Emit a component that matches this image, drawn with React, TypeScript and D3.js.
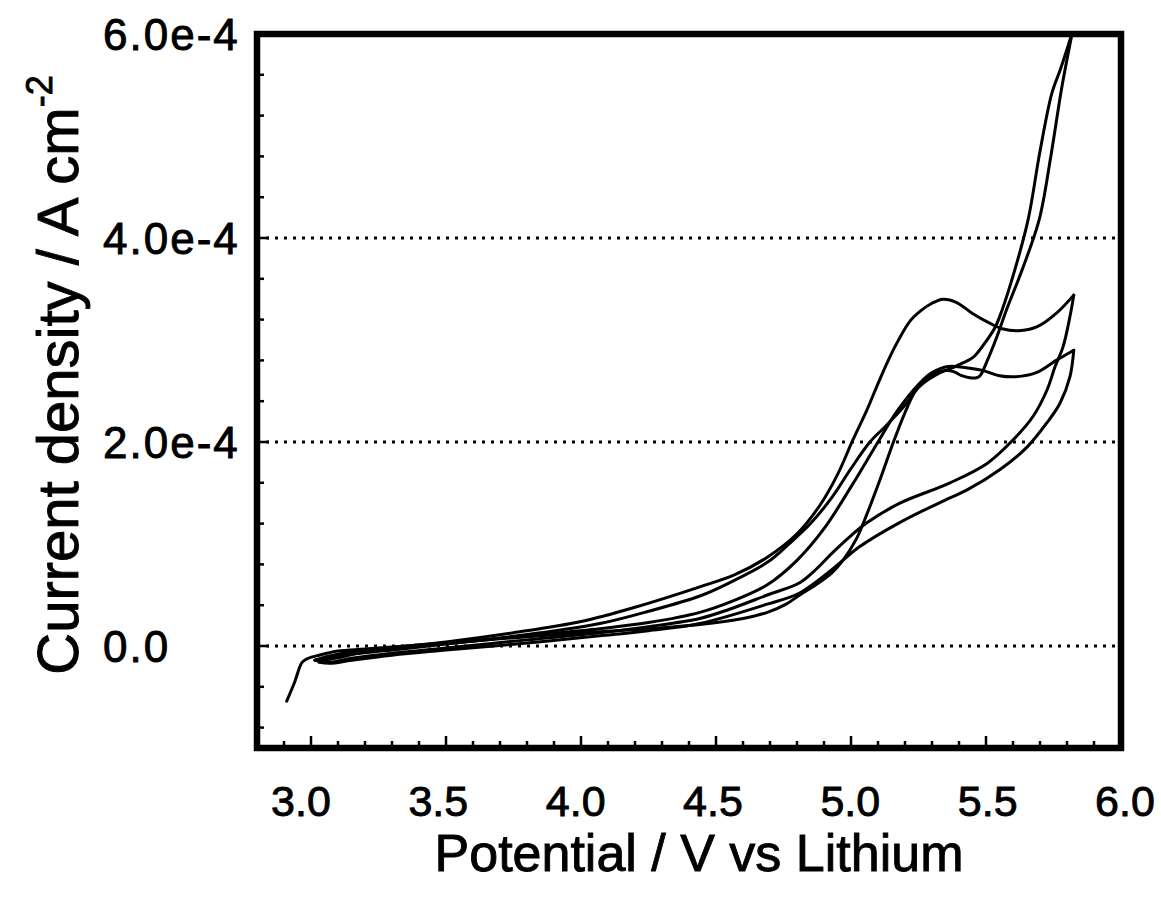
import React from "react";
import * as d3 from "d3";

// Cyclic voltammogram: potential (V vs Li) / current density (in units of 1e-4 A cm^-2)
const anodic1: [number, number][] = [
  [2.91, -0.54], [2.94, -0.35], [2.967, -0.16], [2.99, -0.12], [3.03, -0.09], [3.1, -0.05],
  [3.2, -0.03], [3.35, 0.0], [3.5, 0.03], [3.7, 0.07], [3.9, 0.11], [4.07, 0.14], [4.25, 0.17],
  [4.44, 0.21], [4.6, 0.27], [4.69, 0.33], [4.76, 0.41], [4.81, 0.5], [4.87, 0.6], [4.93, 0.72],
  [4.97, 0.84], [5.02, 1.05], [5.06, 1.3], [5.11, 1.65], [5.16, 2.02], [5.21, 2.35], [5.25, 2.55],
  [5.3, 2.66], [5.35, 2.7], [5.38, 2.69], [5.41, 2.65], [5.44, 2.63], [5.465, 2.63], [5.478, 2.65],
  [5.505, 2.8], [5.54, 3.03], [5.575, 3.29], [5.634, 3.69], [5.697, 4.18], [5.74, 4.8],
  [5.781, 5.48], [5.82, 6.02],
];
const cathodic1: [number, number][] = [
  [5.82, 6.02], [5.8, 5.85], [5.775, 5.65], [5.744, 5.42], [5.7, 4.85], [5.656, 4.18],
  [5.607, 3.69], [5.559, 3.29], [5.533, 3.12], [5.49, 2.95], [5.452, 2.83], [5.41, 2.77],
  [5.378, 2.73], [5.33, 2.68], [5.256, 2.55], [5.2, 2.36], [5.13, 2.16], [5.07, 2.0], [5.0, 1.74],
  [4.93, 1.46], [4.85, 1.2], [4.77, 1.0], [4.69, 0.82], [4.55, 0.62], [4.44, 0.49], [4.25, 0.34],
  [4.07, 0.22], [3.85, 0.13], [3.6, 0.05], [3.4, 0.0], [3.2, -0.06], [3.07, -0.13], [3.015, -0.14],
];
const anodic2: [number, number][] = [
  [3.015, -0.14], [3.05, -0.11], [3.1, -0.08], [3.25, -0.03], [3.5, 0.04], [3.75, 0.13],
  [4.0, 0.24], [4.2, 0.38], [4.44, 0.58], [4.57, 0.7], [4.69, 0.87], [4.8, 1.1], [4.885, 1.38],
  [4.95, 1.68], [5.007, 2.02], [5.06, 2.32], [5.106, 2.61], [5.16, 2.92], [5.22, 3.19],
  [5.26, 3.29], [5.3, 3.36], [5.34, 3.4], [5.39, 3.37], [5.45, 3.26], [5.51, 3.17], [5.56, 3.11],
  [5.62, 3.09], [5.69, 3.13], [5.76, 3.26], [5.825, 3.44],
];
const cathodic2: [number, number][] = [
  [5.825, 3.44], [5.811, 3.23], [5.785, 2.93], [5.756, 2.74], [5.726, 2.51], [5.674, 2.25],
  [5.6, 2.02], [5.504, 1.79], [5.367, 1.6], [5.181, 1.4], [5.06, 1.21], [4.995, 1.07],
  [4.93, 0.91], [4.87, 0.75], [4.81, 0.62], [4.69, 0.5], [4.55, 0.36], [4.44, 0.27], [4.25, 0.19],
  [4.07, 0.13], [3.8, 0.06], [3.5, -0.02], [3.3, -0.07], [3.15, -0.12], [3.07, -0.16], [3.015, -0.14],
];
const anodic3: [number, number][] = [
  [3.015, -0.14], [3.06, -0.12], [3.12, -0.09], [3.3, -0.04], [3.5, 0.02], [3.75, 0.09],
  [4.07, 0.17], [4.25, 0.23], [4.44, 0.33], [4.57, 0.45], [4.69, 0.6], [4.8, 0.84], [4.9, 1.15],
  [5.0, 1.56], [5.1, 2.0], [5.17, 2.3], [5.256, 2.58], [5.3, 2.68], [5.36, 2.74], [5.42, 2.73],
  [5.49, 2.7], [5.55, 2.65], [5.61, 2.64], [5.686, 2.68], [5.76, 2.8], [5.825, 2.9],
];
const cathodic3: [number, number][] = [
  [5.825, 2.9], [5.811, 2.64], [5.774, 2.38], [5.726, 2.19], [5.652, 1.95], [5.552, 1.73],
  [5.43, 1.53], [5.356, 1.44], [5.18, 1.21], [5.03, 0.97], [4.93, 0.75], [4.81, 0.52],
  [4.69, 0.41], [4.44, 0.22], [4.25, 0.15], [4.07, 0.1], [3.8, 0.03], [3.5, -0.04], [3.3, -0.09],
  [3.15, -0.14], [3.07, -0.17], [3.03, -0.16],
];

const sweeps = [anodic1, cathodic1, anodic2, cathodic2, anodic3, cathodic3];

const xLabelValues = [3.0, 3.5, 4.0, 4.5, 5.0, 5.5, 6.0];
const xLabels = ["3.0", "3.5", "4.0", "4.5", "5.0", "5.5", "6.0"];
const yLabelValues = [0, 2, 4, 6];
const yLabels = ["0.0", "2.0e-4", "4.0e-4", "6.0e-4"];
const gridValues = [0, 2, 4];

const W = 1161;
const H = 900;
const font = "'Liberation Sans', Arial, Helvetica, sans-serif";

const App = () => {
  const x = d3.scaleLinear().domain([2.8, 6.0]).range([257, 1121]);
  const y = d3.scaleLinear().domain([-1, 6]).range([748, 34]);
  // the printed tick labels sit on a slightly wider spacing than the ticks
  const xLabelPos = d3.scaleLinear().domain([3.0, 6.0]).range([301, 1125]);

  const line = d3
    .line<[number, number]>()
    .x(d => x(d[0]))
    .y(d => y(d[1]))
    .curve(d3.curveCatmullRom.alpha(0.5));

  const xMinor = d3.range(29, 60).map(d => d / 10);
  const yMinor = d3.range(-2, 15).map(d => d * 0.4);

  const [x0, x1] = x.range();
  const [y0, y1] = y.range();

  return (
    <svg width={W} height={H} style={{ position: "absolute", left: 0, top: 0, background: "#fff" }}>
      <defs>
        <clipPath id="plot">
          <rect x={x0} y={y1} width={x1 - x0} height={y0 - y1} />
        </clipPath>
      </defs>

      {/* dotted grid */}
      {gridValues.map(v => (
        <line key={v} x1={x0} x2={x1} y1={y(v)} y2={y(v)} stroke="#000" strokeWidth={3} strokeDasharray="3 6" />
      ))}

      {/* curves */}
      <g clipPath="url(#plot)">
        {sweeps.map((s, i) => (
          <path key={i} d={line(s) || ""} fill="none" stroke="#000" strokeWidth={3} strokeLinejoin="round" strokeLinecap="round" />
        ))}
      </g>

      {/* ticks */}
      {xMinor.map(v => {
        const major = Math.abs(v * 2 - Math.round(v * 2)) < 1e-6;
        return <line key={v} x1={x(v)} x2={x(v)} y1={y0} y2={y0 - (major ? 12 : 7)} stroke="#000" strokeWidth={2.5} />;
      })}
      {yMinor.map(v => {
        const major = Math.abs(v / 2 - Math.round(v / 2)) < 1e-6;
        return <line key={v} x1={x0} x2={x0 + (major ? 12 : 7)} y1={y(v)} y2={y(v)} stroke="#000" strokeWidth={2.5} />;
      })}

      {/* frame */}
      <rect x={x0} y={y1} width={x1 - x0} height={y0 - y1} fill="none" stroke="#000" strokeWidth={6.5} />

      {/* tick labels */}
      {xLabelValues.map((v, i) => (
        <text key={v} x={xLabelPos(v)} y={816} textAnchor="middle" fontFamily={font} fontSize={43} stroke="#000" strokeWidth={0.9}>
          {xLabels[i]}
        </text>
      ))}
      {yLabelValues.map((v, i) => (
        <text key={v} x={103} y={y(v) + 16} textAnchor="start" fontFamily={font} fontSize={44} letterSpacing={2} stroke="#000" strokeWidth={0.9}>
          {yLabels[i]}
        </text>
      ))}

      {/* axis titles */}
      <text x={699} y={871} textAnchor="middle" fontFamily={font} fontSize={52} stroke="#000" strokeWidth={0.9}>
        Potential / V vs Lithium
      </text>
      <text transform="translate(78,375) rotate(-90)" textAnchor="middle" fontFamily={font} fontSize={58} stroke="#000" strokeWidth={0.9}>
        Current density / A cm
        <tspan fontSize={36} dy={-26}>-2</tspan>
      </text>
    </svg>
  );
};

export default App;
